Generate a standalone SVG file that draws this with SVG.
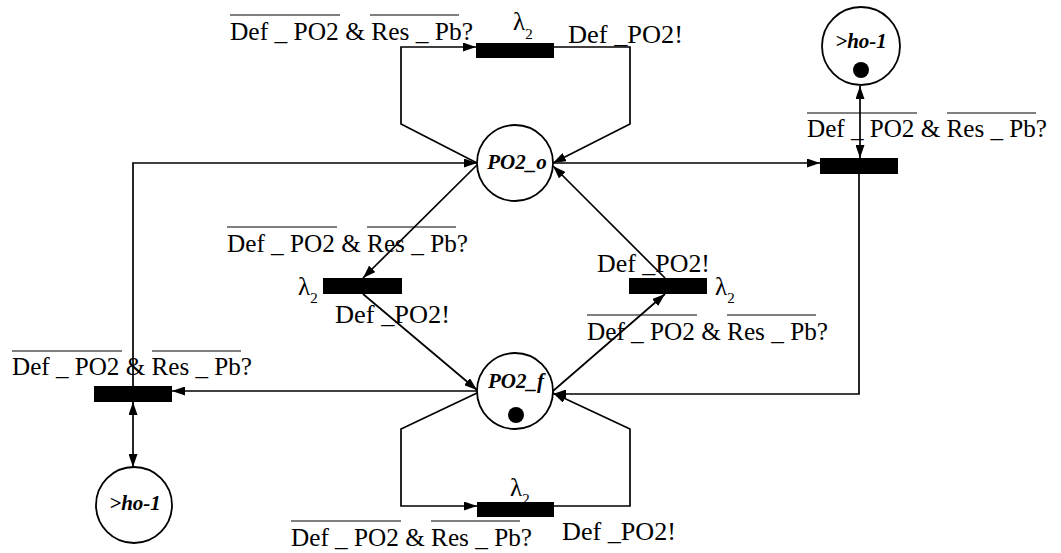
<svg xmlns="http://www.w3.org/2000/svg" width="1061" height="553" viewBox="0 0 1061 553">
<defs>
<style>
.place{fill:#fff;stroke:#000;stroke-width:1.8}
.tr{fill:#000}
.tok{fill:#000}
.ov{stroke:#000;stroke-width:1.2}
.c{fill:none;stroke:#000;stroke-width:1.7}
</style>
<marker id="a" viewBox="0 0 13 9" refX="13" refY="4.5" markerWidth="13" markerHeight="9" markerUnits="userSpaceOnUse" orient="auto-start-reverse"><path d="M0,0 L13,4.5 L0,9 z" fill="#000"/></marker>
</defs>
<rect width="1061" height="553" fill="#fff"/>

<g id="connectors">
<polyline class="c" points="477,163 401,124 401,47 476,47" marker-end="url(#a)"/>
<polyline class="c" points="554,47 630,47 630,124 553,163" marker-end="url(#a)"/>
<polyline class="c" points="133,386 133,163 477,163" marker-end="url(#a)"/>
<line class="c" x1="553" y1="163" x2="820" y2="163" marker-end="url(#a)"/>
<line class="c" x1="860" y1="86" x2="860" y2="158" marker-start="url(#a)" marker-end="url(#a)"/>
<polyline class="c" points="859,174 859,394 553,394" marker-end="url(#a)"/>
<line class="c" x1="477" y1="165" x2="363" y2="278" marker-end="url(#a)"/>
<line class="c" x1="363" y1="294" x2="477" y2="390" marker-end="url(#a)"/>
<line class="c" x1="477" y1="391" x2="172" y2="391" marker-end="url(#a)"/>
<line class="c" x1="133" y1="402" x2="133" y2="467" marker-start="url(#a)" marker-end="url(#a)"/>
<polyline class="c" points="477,393 401,429 401,506 477,506" marker-end="url(#a)"/>
<polyline class="c" points="554,506 630,506 630,429 553,393" marker-end="url(#a)"/>
<line class="c" x1="553" y1="391" x2="665" y2="294" marker-end="url(#a)"/>
<line class="c" x1="665" y1="278" x2="553" y2="166" marker-end="url(#a)"/>
</g>

<g font-family="Liberation Serif, serif" font-size="21" font-weight="bold" font-style="italic" text-anchor="middle">
<g id="PO2_o">
<circle class="place" cx="515" cy="163" r="38"/>
<text x="517" y="169">PO2_o</text>
</g>
<g id="PO2_f">
<circle class="place" cx="515" cy="391" r="38"/>
<text x="516" y="388">PO2_f</text>
<circle class="tok" cx="516" cy="415" r="8"/>
</g>
<g id="ho1_top">
<circle class="place" cx="861" cy="46" r="39"/>
<text x="861" y="48">&gt;ho-1</text>
<circle class="tok" cx="861" cy="70" r="8"/>
</g>
<g id="ho1_bottom">
<circle class="place" cx="134" cy="505" r="38"/>
<text x="135" y="510">&gt;ho-1</text>
</g>
</g>

<g font-family="Liberation Serif, serif" font-size="25">
<g id="t_top">
<rect class="tr" x="476" y="43" width="78" height="15"/>
<text x="230" y="40" textLength="243" lengthAdjust="spacingAndGlyphs">Def _ PO2 &amp; Res _ Pb?</text>
<line class="ov" x1="230" y1="15" x2="340" y2="15"/><line class="ov" x1="370" y1="15" x2="459" y2="15"/>
<text x="513" y="30">λ<tspan font-size="15" dy="9">2</tspan></text>
<text x="568" y="43" textLength="115" lengthAdjust="spacingAndGlyphs">Def _PO2!</text>
</g>

<g id="t_right">
<rect class="tr" x="820" y="158" width="78" height="16"/>
<text x="807" y="137" textLength="240" lengthAdjust="spacingAndGlyphs">Def _ PO2 &amp; Res _ Pb?</text>
<line class="ov" x1="807" y1="113" x2="917" y2="113"/><line class="ov" x1="947" y1="113" x2="1036" y2="113"/>
</g>

<g id="t_midleft">
<rect class="tr" x="323" y="278" width="79" height="16"/>
<text x="227" y="252" textLength="241" lengthAdjust="spacingAndGlyphs">Def _ PO2 &amp; Res _ Pb?</text>
<line class="ov" x1="227" y1="227" x2="337" y2="227"/><line class="ov" x1="367" y1="227" x2="456" y2="227"/>
<text x="298" y="295">λ<tspan font-size="15" dy="8">2</tspan></text>
<text x="335" y="323" textLength="115" lengthAdjust="spacingAndGlyphs">Def _PO2!</text>
</g>

<g id="t_midright">
<rect class="tr" x="629" y="278" width="78" height="16"/>
<text x="597" y="272" textLength="113" lengthAdjust="spacingAndGlyphs">Def _PO2!</text>
<text x="715" y="295">λ<tspan font-size="15" dy="8">2</tspan></text>
<text x="587" y="340" textLength="241" lengthAdjust="spacingAndGlyphs">Def _ PO2 &amp; Res _ Pb?</text>
<line class="ov" x1="587" y1="315" x2="697" y2="315"/><line class="ov" x1="727" y1="315" x2="816" y2="315"/>
</g>

<g id="t_left">
<rect class="tr" x="94" y="386" width="78" height="16"/>
<text x="12" y="375" textLength="240" lengthAdjust="spacingAndGlyphs">Def _ PO2 &amp; Res _ Pb?</text>
<line class="ov" x1="12" y1="351" x2="122" y2="351"/><line class="ov" x1="152" y1="351" x2="241" y2="351"/>
</g>

<g id="t_bottom">
<rect class="tr" x="477" y="502" width="77" height="15"/>
<text x="510" y="496">λ<tspan font-size="15" dy="8">2</tspan></text>
<text x="291" y="546" textLength="241" lengthAdjust="spacingAndGlyphs">Def _ PO2 &amp; Res _ Pb?</text>
<line class="ov" x1="291" y1="521" x2="401" y2="521"/><line class="ov" x1="431" y1="521" x2="520" y2="521"/>
<text x="562" y="540" textLength="114" lengthAdjust="spacingAndGlyphs">Def _PO2!</text>
</g>
</g>
</svg>
